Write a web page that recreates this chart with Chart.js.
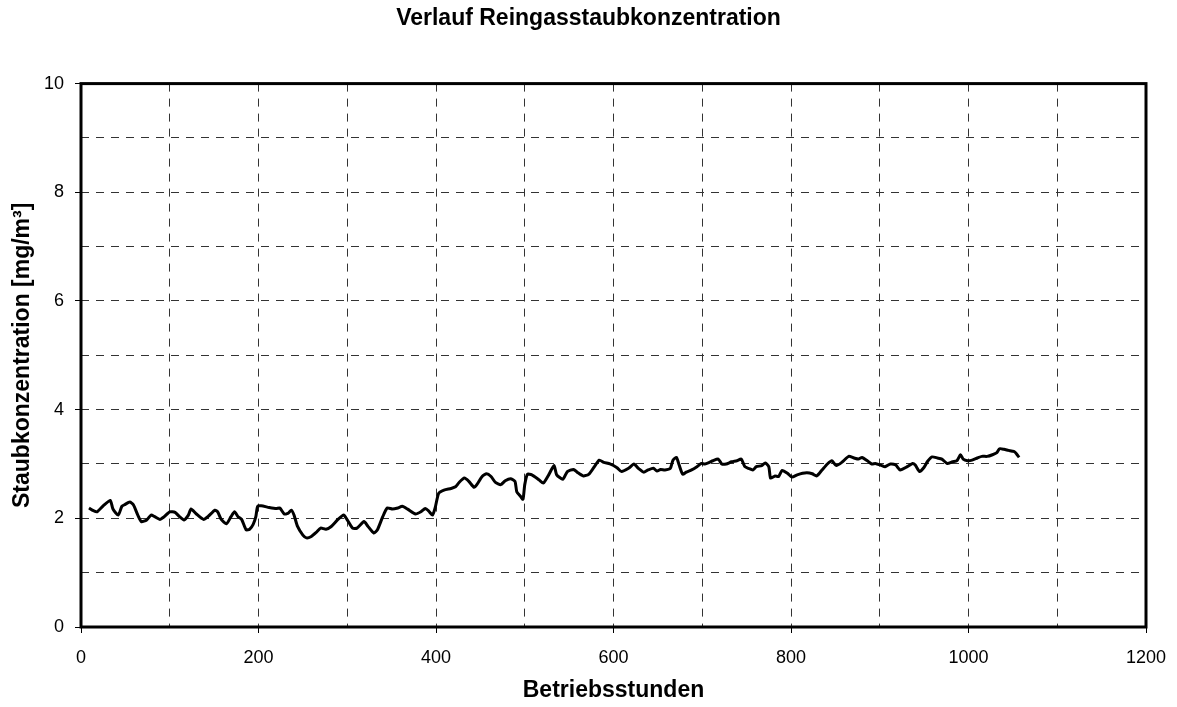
<!DOCTYPE html>
<html><head><meta charset="utf-8">
<script src="https://cdn.jsdelivr.net/npm/chart.js@4/dist/chart.umd.min.js"></script>
<style>html,body{margin:0;padding:0;background:#fff}#wrap{width:1177px;height:707px}</style>
</head><body><div id="wrap"><canvas id="c" width="1177" height="707"></canvas></div>
<script>
const hours = [9,14,18,25,33,36,42,46,49,55,59,64,68,74,79,83,89,93,100,106,111,116,121,124,130,138,143,151,154,158,164,169,173,177,181,186,190,194,197,199,
203,212,220,224,229,233,237,240,244,250,254,259,265,270,276,282,289,296,300,306,311,319,323,330,334,340,345,351,357,362,368,377,383,388,392,
396,399,403,409,417,422,426,432,437,443,446,452,457,462,467,473,478,484,489,491,495,498,500,503,508,516,521,527,533,536,543,548,555,559,566,572,578,584,
589,596,604,609,617,623,628,634,639,645,649,653,658,664,667,671,674,678,682,688,694,699,703,708,712,718,722,727,733,739,744,748,752,757,761,767,771,
775,777,782,786,790,796,801,807,813,818,824,829,835,841,846,851,858,865,871,876,880,886,891,895,901,906,912,918,923,931,937,940,945,
950,954,959,965,970,976,982,987,991,994,999,1004,1010,1015,1021,1027,1032,1035,1040,1045,1051,1054,1057];
const dust = [2.19,2.14,2.12,2.23,2.33,2.17,2.06,2.22,2.25,2.30,2.25,2.06,1.94,1.97,2.06,2.03,1.98,2.02,2.12,2.11,2.03,1.97,2.06,2.17,2.08,1.98,2.03,2.15,2.12,1.98,1.90,2.03,2.12,2.03,1.98,1.79,1.80,1.89,2.03,2.22,
2.23,2.20,2.18,2.19,2.08,2.09,2.15,2.06,1.85,1.69,1.64,1.66,1.74,1.82,1.80,1.85,1.97,2.06,1.97,1.82,1.82,1.94,1.86,1.73,1.79,2.03,2.19,2.17,2.19,2.22,2.17,2.08,2.12,2.18,2.13,
2.06,2.19,2.46,2.52,2.55,2.58,2.66,2.74,2.68,2.57,2.62,2.77,2.82,2.77,2.66,2.62,2.69,2.73,2.68,2.49,2.41,2.35,2.62,2.81,2.80,2.71,2.65,2.80,2.97,2.80,2.72,2.86,2.90,2.85,2.78,2.81,2.94,3.07,
3.03,3.00,2.93,2.86,2.92,3.00,2.92,2.85,2.89,2.92,2.87,2.90,2.89,2.92,3.07,3.12,2.98,2.81,2.85,2.89,2.95,3.01,3.00,3.03,3.06,3.09,3.00,3.00,3.04,3.06,3.09,2.95,2.92,2.89,2.95,2.97,3.02,
2.95,2.74,2.78,2.77,2.88,2.83,2.76,2.80,2.83,2.84,2.82,2.78,2.89,3.00,3.06,2.97,3.04,3.14,3.11,3.09,3.12,3.06,3.00,3.01,2.98,2.95,3.00,2.98,2.89,2.95,3.01,2.98,2.86,
2.94,3.05,3.13,3.11,3.09,3.01,3.04,3.06,3.17,3.09,3.06,3.07,3.11,3.14,3.14,3.17,3.21,3.28,3.27,3.25,3.23,3.19,3.12];
const xLabelValues = [0,200,400,600,800,1000,1200];
const yLabelValues = [0,2,4,6,8,10];

const FONT = '"Liberation Sans", Arial, sans-serif';
Chart.defaults.font.family = FONT;
Chart.defaults.color = '#000';

const frame = {
  id: 'frame',
  afterDraw(chart) {
    const {ctx, chartArea: a} = chart;
    ctx.save();
    ctx.strokeStyle = '#000';
    ctx.lineWidth = 3;
    ctx.strokeRect(a.left, a.top, a.right - a.left, a.bottom - a.top);
    ctx.restore();
  }
};

const gridOpts = (labels) => ({
  color: '#333',
  lineWidth: 1,
  tickLength: 6,
  tickWidth: 1,
  tickBorderDash: [],
  tickColor: (ctx) => (ctx.tick && labels.includes(ctx.tick.value)) ? '#000' : 'rgba(0,0,0,0)'
});

new Chart(document.getElementById('c'), {
  type: 'line',
  data: {
    datasets: [{
      data: hours.map((h, i) => ({x: h, y: dust[i]})),
      borderColor: '#000',
      borderWidth: 3,
      pointRadius: 0,
      fill: false,
      tension: 0.2,
      yAxisID: 'y'
    }]
  },
  options: {
    responsive: false,
    animation: false,
    devicePixelRatio: 1,
    layout: {padding: 0},
    plugins: {
      legend: {display: false},
      tooltip: {enabled: false},
      title: {
        display: true,
        text: 'Verlauf Reingasstaubkonzentration',
        color: '#000',
        font: {size: 23, weight: 'bold', family: FONT},
        padding: {top: 5, bottom: 51}
      }
    },
    scales: {
      x: {
        type: 'linear',
        min: 0, max: 1200,
        ticks: {
          stepSize: 100, autoSkip: false, maxRotation: 0, padding: 14,
          color: '#000', font: {size: 18, family: FONT},
          callback: (v) => xLabelValues.includes(v) ? String(v) : ''
        },
        grid: gridOpts(xLabelValues),
        border: {display: false, dash: [8, 7]},
        title: {
          display: true, text: 'Betriebsstunden', color: '#000',
          font: {size: 23, weight: 'bold', family: FONT},
          padding: {top: 0, bottom: 3}
        },
        afterFit: (s) => { s.height = 80; s.paddingRight = 0; s.paddingLeft = 0; }
      },
      y: {
        type: 'linear',
        position: 'left',
        min: 0, max: 10,
        ticks: {
          stepSize: 1, autoSkip: false, padding: 11,
          color: '#000', font: {size: 18, family: FONT},
          callback: (v) => yLabelValues.includes(v) ? String(v) : ''
        },
        grid: gridOpts(yLabelValues),
        border: {display: false, dash: [8, 7]},
        title: {
          display: true, text: 'Staubkonzentration [mg/m³]', color: '#000',
          font: {size: 23, weight: 'bold', family: FONT},
          padding: {top: 9, bottom: 0}
        },
        afterFit: (s) => { s.width = 81; }
      },
      yRight: {
        type: 'linear',
        position: 'right',
        display: true,
        min: 0, max: 10,
        grid: {display: false, drawOnChartArea: false},
        ticks: {display: false},
        border: {display: false},
        afterFit: (s) => { s.width = 31; }
      }
    }
  },
  plugins: [frame]
});
</script>
</body></html>
